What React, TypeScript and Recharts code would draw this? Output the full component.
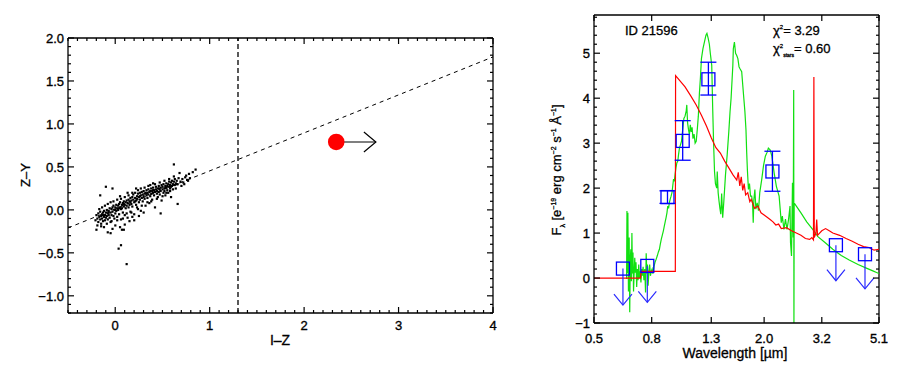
import React from 'react';
import { ScatterChart, ComposedChart, Scatter, Line, XAxis, YAxis, ReferenceLine, ErrorBar } from 'recharts';

const FONT = '"Liberation Sans", Arial, Helvetica, sans-serif';

// ---------- left panel: I-Z vs Z-Y ----------
const izLabels = [0, 1, 2, 3, 4];
const zyLabels = [-1.0, -0.5, 0.0, 0.5, 1.0, 1.5, 2.0];
const izDomain = [-0.5, 4];
const zyDomain = [-1.2, 2.0];
const cutIZ = 1.3;
const selLine = [[-0.5, -0.21], [4, 1.78]];
const candidate = [2.34, 0.79];
const candidateLimit = 2.76;

// field objects (I-Z, Z-Y)
const field = [
  [-0.21,-0.12],[-0.2,-0.06],[-0.19,-0.1],[-0.18,-0.04],[-0.18,-0.14],[-0.17,-0.08],[-0.16,-0.11],[-0.16,-0.02],
  [-0.15,-0.07],[-0.15,-0.16],[-0.14,-0.05],[-0.14,-0.1],[-0.13,-0.03],[-0.13,-0.13],[-0.12,-0.08],[-0.12,-0.01],
  [-0.11,-0.06],[-0.11,-0.12],[-0.1,-0.03],[-0.1,-0.09],[-0.09,0.0],[-0.09,-0.07],[-0.08,-0.04],[-0.08,-0.11],
  [-0.07,-0.01],[-0.07,-0.06],[-0.06,0.02],[-0.06,-0.09],[-0.05,-0.03],[-0.05,-0.14],[-0.04,0.01],[-0.04,-0.06],
  [-0.03,0.03],[-0.03,-0.02],[-0.02,-0.07],[-0.02,0.05],[-0.01,0.0],[-0.01,-0.1],[0.0,0.03],[0.0,-0.04],
  [0.01,0.06],[0.01,-0.01],[0.02,0.02],[0.02,-0.08],[0.03,0.05],[0.03,0.0],[0.04,0.07],[0.04,-0.05],
  [0.05,0.03],[0.05,0.09],[0.06,0.01],[0.06,-0.11],[0.07,0.06],[0.07,0.02],[0.08,0.08],[0.08,-0.03],
  [0.09,0.04],[0.09,0.1],[0.1,0.06],[0.1,-0.06],[0.11,0.09],[0.11,0.02],[0.12,0.11],[0.12,0.05],
  [0.13,0.08],[0.13,-0.09],[0.14,0.12],[0.14,0.03],[0.15,0.1],[0.15,0.06],[0.16,0.14],[0.16,-0.02],
  [0.17,0.11],[0.17,0.07],[0.18,0.15],[0.18,0.04],[0.19,0.12],[0.19,0.18],[0.2,0.09],[0.2,-0.05],
  [0.21,0.14],[0.21,0.2],[0.22,0.11],[0.22,0.06],[0.23,0.16],[0.23,0.13],[0.24,0.19],[0.24,0.01],
  [0.25,0.15],[0.25,0.09],[0.26,0.2],[0.26,0.12],[0.27,0.17],[0.27,-0.01],[0.28,0.14],[0.28,0.21],
  [0.29,0.18],[0.29,0.1],[0.3,0.16],[0.3,0.22],[0.31,0.13],[0.31,0.19],[0.32,0.2],[0.32,0.05],
  [0.33,0.17],[0.33,0.23],[0.34,0.14],[0.34,0.2],[0.35,0.18],[0.35,0.24],[0.36,0.21],[0.36,0.08],
  [0.37,0.16],[0.37,0.22],[0.38,0.19],[0.38,0.25],[0.39,0.22],[0.39,0.12],[0.4,0.2],[0.4,0.26],
  [0.41,0.17],[0.41,0.23],[0.42,0.21],[0.42,0.03],[0.43,0.24],[0.43,0.27],[0.44,0.19],[0.44,0.22],
  [0.45,0.25],[0.45,0.15],[0.46,0.21],[0.46,0.28],[0.47,0.24],[0.47,0.18],[0.48,0.26],[0.48,0.22],
  [0.49,0.29],[0.49,0.11],[0.5,0.24],[0.5,0.27],[0.51,0.2],[0.51,0.3],[0.52,0.25],[0.52,0.22],
  [0.53,0.28],[0.53,0.17],[0.54,0.26],[0.54,0.31],[0.55,0.23],[0.55,0.28],[0.56,0.3],[0.56,0.2],
  [0.57,0.27],[0.57,0.33],[0.58,0.25],[0.58,0.29],[0.59,0.32],[0.59,0.15],[0.6,0.28],[0.6,0.34],
  [0.61,0.3],[0.61,0.24],[0.62,0.33],[0.63,0.29],[0.63,0.36],[0.64,0.31],[0.65,0.34],[0.66,0.3],
  [0.67,0.37],[0.69,0.33],[0.71,0.36],[0.73,0.3],[0.74,0.38],[0.76,0.35],[0.78,0.42],[0.79,0.37],
  [0.82,0.44],
  [-0.16,0.17],[-0.1,0.27],[-0.03,0.25],[0.035,-0.45],[0.06,-0.41],[0.12,-0.63],[0.62,0.53],[0.68,0.43],
  [0.85,0.47],[0.75,0.4],[0.66,0.07],[0.48,-0.04],[-0.2,-0.23],[-0.08,-0.26],[-0.03,-0.22],[0.07,-0.23],
  [0.0,-0.18],[0.1,-0.17],[0.15,-0.13],[0.2,-0.12],[0.25,-0.07],[0.3,-0.03],[0.05,-0.2],[-0.12,-0.2],
  [0.22,0.25],[0.05,0.16],[0.13,0.2],[0.35,0.28],[0.4,0.31],[0.18,-0.08],[-0.05,-0.27],[0.09,-0.23],
  [-0.17,0.01],[-0.14,0.03],[-0.11,0.05],[-0.08,0.07],[-0.05,0.09],[-0.02,0.1],[0.02,0.12],[0.06,0.13],
  [0.1,0.15],[0.14,0.17],[0.18,0.2],[0.24,0.23],[0.27,0.25],[0.31,0.26],[0.37,0.29],[0.42,0.3],
  [0.47,0.32],[0.52,0.34],[0.57,0.36],[0.62,0.39],[-0.19,-0.18],[-0.15,-0.19],[-0.09,-0.16],[-0.04,-0.13],
  [0.02,-0.12],[0.08,-0.1],[0.12,-0.04],[0.17,-0.03],[0.23,0.03],[0.28,0.05],[0.34,0.09],[0.38,0.1],
  [0.44,0.13],[0.5,0.16],[0.54,0.2],[0.58,0.22],[0.64,0.25],[0.7,0.28],[-0.13,-0.06],[-0.07,-0.03],
  [0.0,0.0],[0.04,0.02],[0.09,0.07],[0.16,0.09],[0.21,0.1],[0.26,0.16],[0.33,0.19],[0.4,0.23],
  [0.46,0.25],[0.53,0.26],[0.59,0.27],[0.65,0.3],[0.72,0.32],[0.77,0.34],
];

// ---------- right panel: SED ----------
const lamLabels = [0.5, 0.8, 1.3, 2.0, 3.2, 5.1];
const fluxLabels = [-1, 0, 1, 2, 3, 4, 5];
const lamDomain = [0.5, 5.1];
const fluxDomain = [-1, 5.85];

// observed spectrum (green), wavelength in micron
const spectrum = [
  [0.652,-0.02],[0.654,1.49],[0.657,0.11],[0.659,1.45],[0.662,-0.3],[0.666,0.9],[0.669,-0.76],[0.672,0.42],
  [0.675,0.64],[0.678,-0.07],[0.681,1.0],[0.684,0.1],[0.687,0.57],[0.69,-0.3],[0.693,0.05],[0.697,0.45],
  [0.7,0.12],[0.704,0.35],[0.708,-0.2],[0.712,0.2],[0.716,-0.05],[0.72,0.3],[0.724,0.0],[0.728,0.15],
  [0.733,-0.1],[0.738,0.2],[0.742,0.05],[0.746,0.25],[0.751,-0.05],[0.756,0.2],[0.761,-0.32],[0.765,0.55],
  [0.769,0.1],[0.773,0.3],[0.777,-0.17],[0.782,0.13],[0.787,0.3],[0.792,0.05],[0.797,0.15],[0.803,0.2],
  [0.808,0.1],[0.815,0.25],[0.822,0.35],[0.83,0.42],[0.838,0.5],[0.845,0.58],[0.852,0.64],[0.858,0.75],
  [0.865,0.86],[0.872,0.95],[0.88,1.05],[0.887,1.16],[0.893,1.25],[0.9,1.35],[0.906,1.45],[0.912,1.6],
  [0.918,1.55],[0.924,1.68],[0.93,1.75],[0.937,1.82],[0.944,1.9],[0.95,2.05],[0.956,2.2],[0.962,2.15],
  [0.968,2.3],[0.975,2.45],[0.982,2.56],[0.99,2.6],[0.996,2.75],[1.003,2.89],[1.01,2.95],[1.02,3.04],
  [1.03,3.3],[1.04,3.55],[1.05,3.6],[1.06,3.72],[1.065,3.85],[1.072,3.45],[1.08,3.3],[1.088,3.19],
  [1.096,3.41],[1.104,3.25],[1.112,3.35],[1.12,3.1],[1.13,3.2],[1.14,3.0],[1.15,3.04],[1.16,3.3],
  [1.17,3.6],[1.18,4.1],[1.19,4.45],[1.2,4.88],[1.215,5.1],[1.23,5.25],[1.245,5.4],[1.255,5.44],
  [1.268,5.33],[1.28,5.2],[1.29,5.0],[1.305,4.73],[1.315,3.8],[1.325,3.0],[1.335,2.37],[1.345,2.1],
  [1.359,2.0],[1.365,2.37],[1.375,1.9],[1.385,1.71],[1.395,1.55],[1.405,1.42],[1.415,1.88],[1.427,1.34],
  [1.44,1.7],[1.45,2.0],[1.46,2.3],[1.47,2.52],[1.48,2.74],[1.49,3.0],[1.5,3.26],[1.515,3.7],
  [1.528,4.0],[1.54,4.4],[1.55,4.73],[1.556,5.1],[1.57,5.25],[1.585,5.0],[1.6,4.95],[1.615,4.88],
  [1.63,4.7],[1.645,4.65],[1.666,4.59],[1.68,4.3],[1.695,4.0],[1.71,3.7],[1.725,3.3],[1.735,2.8],
  [1.745,2.41],[1.76,1.97],[1.775,2.1],[1.79,1.82],[1.807,1.82],[1.82,1.67],[1.83,1.23],[1.84,1.75],
  [1.855,1.97],[1.87,1.53],[1.89,1.67],[1.91,1.5],[1.93,1.9],[1.961,2.19],[1.99,2.5],[2.02,2.71],
  [2.05,2.8],[2.07,2.89],[2.1,2.85],[2.13,2.71],[2.17,2.34],[2.21,2.04],[2.26,1.82],[2.28,1.53],
  [2.3,1.23],[2.32,1.38],[2.35,1.08],[2.38,1.31],[2.41,1.08],[2.44,1.3],[2.47,1.6],[2.48,0.79],
  [2.5,0.49],[2.52,2.12],[2.535,0.9],[2.545,4.18],[2.55,-1.0],[2.555,1.67],[2.6,1.6],[2.7,1.45],
  [2.83,1.25],[3.0,1.05],[3.1,0.92],[3.3,0.78],[3.5,0.64],[3.75,0.5],[4.0,0.4],[4.3,0.3],
  [4.6,0.22],[4.85,0.16],[5.1,0.1],
];

// best-fit template (red)
const template = [
  [0.5,0],[0.73,0],[0.735,0.15],[0.97,0.15],[0.972,4.5],[1.05,4.25],[1.1,4.05],[1.15,3.85],
  [1.2,3.62],[1.25,3.38],[1.3,3.12],[1.35,2.9],[1.4,2.78],[1.45,2.6],[1.5,2.45],[1.55,2.3],
  [1.6,2.18],[1.62,2.35],[1.64,2.05],[1.66,2.25],[1.68,1.95],[1.7,2.1],[1.72,1.85],[1.75,1.9],
  [1.78,1.7],[1.8,1.75],[1.85,1.55],[1.9,1.6],[1.95,1.45],[2.0,1.4],[2.05,1.35],[2.1,1.3],
  [2.15,1.25],[2.2,1.18],[2.25,1.2],[2.3,1.1],[2.4,1.12],[2.5,1.05],[2.6,1.0],[2.7,0.95],
  [2.8,0.88],[2.9,0.86],[2.95,0.9],[2.99,0.85],[3.0,4.47],[3.01,0.9],[3.05,1.0],[3.07,1.3],
  [3.09,0.95],[3.2,1.05],[3.3,1.1],[3.4,1.05],[3.5,1.0],[3.7,0.95],[3.9,0.88],[4.1,0.82],
  [4.3,0.75],[4.5,0.7],[4.7,0.68],[4.9,0.62],[5.1,0.64],
];

// photometry: detections with errors, and upper limits
const detLam = [0.91, 1.03, 1.27, 2.14];
const detFlux = [1.8, 3.05, 4.42, 2.37];
const detErrLo = [0.14, 0.43, 0.35, 0.44];
const detErrHi = [0.14, 0.45, 0.38, 0.45];
const limLam = [0.633, 0.772, 3.59, 4.55];
const limFlux = [0.21, 0.27, 0.73, 0.53];
const limTip = [-0.6, -0.54, -0.06, -0.24];

const steps = (a: number, b: number, s: number) => {
  const n = Math.round((b - a) / s);
  return Array.from({ length: n + 1 }, (_, i) => Math.round((a + i * s) * 100) / 100);
};
const near = (list: number[], v: number) => list.some((t) => Math.abs(t - v) < 1e-6);
const fmt = (v: number, d: number) => v.toFixed(d).replace('-', '\u2212');

const LW = 425, LH = 275, RW = 285, RH = 308;
const txt = { fontFamily: FONT, fontSize: 13, fill: '#000', stroke: '#000', strokeWidth: 0.35 };
const TK = 1.2;

const LeftXTick = ({ x, y, payload }: any) => {
  const v = payload.value;
  const major = near(izLabels, v);
  const len = major ? 6 : 3;
  return (
    <g>
      <line x1={x} x2={x} y1={y} y2={y - len} stroke="#000" strokeWidth={TK} />
      <line x1={x} x2={x} y1={y - LH} y2={y - LH + len} stroke="#000" strokeWidth={TK} />
      {major && <text x={x} y={y + 17} textAnchor="middle" style={txt}>{fmt(v, 0)}</text>}
    </g>
  );
};
const LeftYTick = ({ x, y, payload }: any) => {
  const v = payload.value;
  const major = near(zyLabels, v);
  const len = major ? 6 : 3;
  return (
    <g>
      <line x1={x} x2={x + len} y1={y} y2={y} stroke="#000" strokeWidth={TK} />
      <line x1={x + LW} x2={x + LW - len} y1={y} y2={y} stroke="#000" strokeWidth={TK} />
      {major && <text x={x - 4} y={y + 5} textAnchor="end" style={txt}>{fmt(v, 1)}</text>}
    </g>
  );
};
const RightXTick = ({ x, y, payload }: any) => {
  const v = payload.value;
  return (
    <g>
      <line x1={x} x2={x} y1={y} y2={y - 6} stroke="#000" strokeWidth={TK} />
      <line x1={x} x2={x} y1={y - RH} y2={y - RH + 6} stroke="#000" strokeWidth={TK} />
      <text x={x} y={y + 20} textAnchor="middle" style={txt}>{v.toFixed(1)}</text>
    </g>
  );
};
const RightYTick = ({ x, y, payload }: any) => {
  const v = payload.value;
  const major = near(fluxLabels, v);
  const len = major ? 6 : 3;
  return (
    <g>
      <line x1={x} x2={x + len} y1={y} y2={y} stroke="#000" strokeWidth={TK} />
      <line x1={x + RW} x2={x + RW - len} y1={y} y2={y} stroke="#000" strokeWidth={TK} />
      {major && <text x={x - 4} y={y + 5} textAnchor="end" style={txt}>{fmt(v, 0)}</text>}
    </g>
  );
};

const pts = (arr: number[][]) => arr.map(([x, y]) => ({ x, y }));

const Text = ({ x, y, children, rotate, size = 13, anchor = 'middle' }: any) => (
  <div
    style={{
      position: 'absolute', left: x, top: y, fontFamily: FONT, fontSize: size, lineHeight: 1,
      whiteSpace: 'nowrap', color: '#000', WebkitTextStroke: '0.3px #000',
      transform: `translate(${anchor === 'middle' ? '-50%' : '0'}, -50%)${rotate ? ' rotate(-90deg)' : ''}`,
      transformOrigin: anchor === 'middle' ? 'center' : 'left center',
    }}
  >
    {children}
  </div>
);

export default function App() {
  const fieldData = pts(field);
  const detData = detLam.map((x, i) => ({ x, y: detFlux[i], err: [detErrLo[i], detErrHi[i]] }));
  const limData = limLam.map((x, i) => ({ x, y: limFlux[i] }));
  const tipData = limLam.map((x, i) => ({ x, y: limTip[i] }));
  const axisLine = { stroke: '#000', strokeWidth: 1.3 };

  return (
    <div style={{ position: 'absolute', left: 0, top: 0, width: 900, height: 370, background: '#fff' }}>
      <div style={{ position: 'absolute', left: 0, top: 0 }}>
        <ScatterChart width={520} height={370} margin={{ top: 38, right: 27, bottom: 56, left: 67 }}>
          <XAxis type="number" dataKey="x" domain={izDomain} ticks={steps(-0.5, 4, 0.1)} interval={0}
            allowDataOverflow height={1} tickSize={0} tickMargin={0} tickLine={false} axisLine={axisLine}
            tick={(p: any) => <LeftXTick {...p} />} />
          <YAxis type="number" dataKey="y" domain={zyDomain} ticks={steps(-1.2, 2, 0.1)} interval={0}
            allowDataOverflow width={1} tickSize={0} tickMargin={0} tickLine={false} axisLine={axisLine}
            tick={(p: any) => <LeftYTick {...p} />} />
          <ReferenceLine y={2} stroke="#000" strokeWidth={1.3} />
          <ReferenceLine x={4} stroke="#000" strokeWidth={1.3} />
          <ReferenceLine x={cutIZ} stroke="#000" strokeWidth={1.3} strokeDasharray="5 3" />
          <ReferenceLine segment={[{ x: selLine[0][0], y: selLine[0][1] }, { x: selLine[1][0], y: selLine[1][1] }]}
            stroke="#000" strokeDasharray="4 4" />
          <Scatter data={fieldData} isAnimationActive={false}
            shape={(p: any) => <rect x={p.cx - 1} y={p.cy - 1} width={2.2} height={2.2} fill="#000" />} />
          <Scatter data={[{ x: candidate[0], y: candidate[1] }]} isAnimationActive={false}
            shape={(p: any) => <circle cx={p.cx} cy={p.cy} r={8.3} fill="#ff0000" />} />
          <ReferenceLine segment={[{ x: candidate[0], y: candidate[1] }, { x: candidateLimit, y: candidate[1] }]}
            stroke="#000" strokeWidth={1.2} />
          <Scatter data={[{ x: candidateLimit, y: candidate[1] }]} isAnimationActive={false}
            shape={(p: any) => <path d={`M${p.cx - 12},${p.cy - 10}L${p.cx},${p.cy}L${p.cx - 12},${p.cy + 10}`} stroke="#000" strokeWidth={1.2} fill="none" />} />
        </ScatterChart>
      </div>

      <div style={{ position: 'absolute', left: 520, top: 0 }}>
        <ComposedChart width={380} height={370} margin={{ top: 15, right: 21, bottom: 46, left: 73 }}>
          <XAxis type="number" dataKey="x" scale="log" domain={lamDomain} ticks={lamLabels} interval={0}
            allowDataOverflow height={1} tickSize={0} tickMargin={0} tickLine={false} axisLine={axisLine}
            tick={(p: any) => <RightXTick {...p} />} />
          <YAxis type="number" dataKey="y" domain={fluxDomain} ticks={steps(-1, 5.8, 0.2)} interval={0}
            allowDataOverflow width={1} tickSize={0} tickMargin={0} tickLine={false} axisLine={axisLine}
            tick={(p: any) => <RightYTick {...p} />} />
          <ReferenceLine y={fluxDomain[1]} stroke="#000" strokeWidth={1.3} />
          <ReferenceLine x={lamDomain[1]} stroke="#000" strokeWidth={1.3} />
          <Line data={pts(spectrum)} dataKey="y" type="linear" stroke="#11e011" strokeWidth={1.2} dot={false} isAnimationActive={false} />
          <Line data={pts(template)} dataKey="y" type="linear" stroke="#ff0000" strokeWidth={1.2} dot={false} isAnimationActive={false} />
          {limLam.map((x, i) => (
            <ReferenceLine key={i} segment={[{ x, y: limFlux[i] }, { x, y: limTip[i] }]} stroke="#2a2aff" strokeWidth={1.2} />
          ))}
          <Scatter data={tipData} isAnimationActive={false}
            shape={(p: any) => <path d={`M${p.cx - 9},${p.cy - 11}L${p.cx},${p.cy}L${p.cx + 9},${p.cy - 11}`} stroke="#2a2aff" strokeWidth={1.2} fill="none" />} />
          <Scatter data={limData} isAnimationActive={false}
            shape={(p: any) => <rect x={p.cx - 6.5} y={p.cy - 6.5} width={13} height={13} stroke="#0000ff" strokeWidth={1.3} fill="none" />} />
          <Scatter data={detData} isAnimationActive={false}
            shape={(p: any) => <rect x={p.cx - 6.5} y={p.cy - 6.5} width={13} height={13} stroke="#0000ff" strokeWidth={1.3} fill="none" />}>
            <ErrorBar dataKey="err" direction="y" width={8} stroke="#0000ff" strokeWidth={1.3} />
          </Scatter>
        </ComposedChart>
      </div>

      <Text x={25} y={175} rotate>Z–Y</Text>
      <Text x={280} y={340} size={14}>I–Z</Text>

      <Text x={625} y={30} anchor="start">ID 21596</Text>
      <Text x={773} y={30} anchor="start">χ<sup style={{ fontSize: 6 }}>2</sup>= 3.29</Text>
      <Text x={773} y={50} anchor="start">χ<sup style={{ fontSize: 6 }}>2</sup><sub style={{ fontSize: 5 }}>stars</sub>= 0.60</Text>
      <Text x={558} y={170} rotate>
        F<sub style={{ fontSize: 7 }}>λ</sub> [e<sup style={{ fontSize: 7 }}>−19</sup> erg cm<sup style={{ fontSize: 7 }}>−2</sup> s<sup style={{ fontSize: 7 }}>−1</sup> Å<sup style={{ fontSize: 7 }}>−1</sup>]
      </Text>
      <Text x={735} y={353} size={14}>Wavelength [µm]</Text>
    </div>
  );
}
